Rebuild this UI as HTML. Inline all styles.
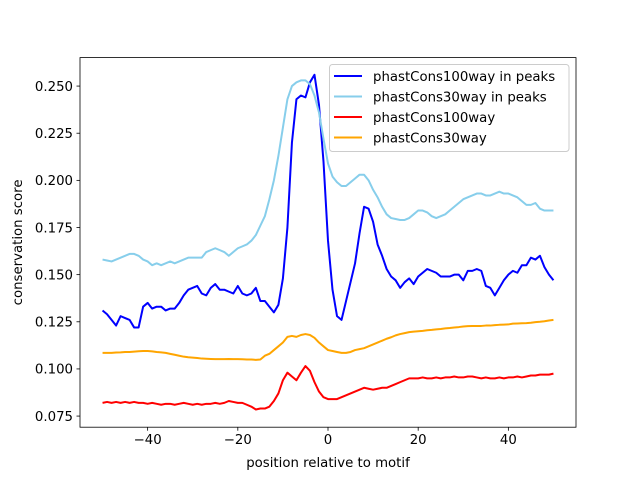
<!DOCTYPE html>
<html><head><meta charset="utf-8"><style>
body{margin:0;background:#fff;}
svg text{font-family:"DejaVu Sans","Liberation Sans",sans-serif;font-size:13.3px;fill:#000;}
</style></head><body>
<svg id="chart" width="640" height="480" xmlns="http://www.w3.org/2000/svg">
<rect width="640" height="480" fill="#fff"/>
<g id="plot"></g>
</svg>
<script>
const positions = [];
for (let i = -50; i <= 50; i++) positions.push(i);
const peaks100 = [.131,.129,.126,.123,.128,.127,.126,.122,.122,.133,.135,.132,.133,.133,.131,.132,.132,.135,.139,.142,.143,.144,.140,.139,.143,.145,.142,.142,.141,.140,.144,.140,.139,.140,.143,.136,.136,.133,.130,.134,.148,.175,.220,.243,.245,.244,.252,.256,.240,.210,.168,.142,.128,.126,.136,.146,.156,.172,.186,.185,.178,.166,.160,.153,.149,.147,.143,.146,.148,.145,.149,.151,.153,.152,.151,.149,.149,.149,.150,.150,.147,.152,.152,.153,.152,.144,.143,.139,.143,.147,.150,.152,.151,.155,.155,.159,.158,.160,.154,.150,.147];
const peaks30 = [.158,.1575,.157,.158,.159,.160,.161,.161,.160,.158,.157,.155,.156,.155,.156,.157,.156,.157,.158,.159,.159,.159,.159,.162,.163,.164,.163,.162,.160,.162,.164,.165,.166,.168,.171,.176,.181,.190,.200,.213,.228,.243,.250,.252,.253,.253,.251,.245,.236,.222,.209,.202,.199,.197,.197,.199,.201,.203,.203,.200,.195,.191,.186,.182,.180,.1795,.179,.179,.180,.182,.184,.184,.183,.181,.180,.181,.182,.184,.186,.188,.190,.191,.192,.193,.193,.192,.192,.193,.194,.193,.193,.192,.191,.189,.187,.187,.188,.185,.184,.184,.184];
const all100 = [.082,.0825,.082,.0825,.082,.0825,.082,.0825,.082,.082,.0815,.082,.0815,.081,.0815,.0815,.081,.0815,.082,.0815,.081,.0815,.081,.0815,.0815,.082,.0815,.082,.083,.0825,.082,.082,.081,.080,.0785,.079,.079,.080,.083,.087,.094,.098,.096,.094,.098,.1015,.099,.093,.088,.085,.084,.084,.084,.085,.086,.087,.088,.089,.090,.0895,.089,.0895,.090,.090,.091,.092,.093,.094,.095,.095,.095,.0955,.095,.095,.0955,.095,.0955,.0955,.096,.0955,.0955,.096,.096,.0955,.095,.0955,.095,.095,.0955,.095,.0955,.0955,.096,.0955,.096,.0965,.0965,.097,.097,.097,.0975];
const all30 = [.1085,.1085,.1085,.1087,.1088,.109,.109,.1092,.1094,.1095,.1095,.1093,.109,.1088,.1085,.108,.1075,.107,.1065,.1062,.106,.1058,.1055,.1054,.1053,.1052,.1052,.1052,.1053,.1052,.1052,.1051,.105,.105,.1048,.105,.107,.108,.110,.112,.114,.117,.1175,.117,.118,.1185,.118,.1165,.114,.112,.110,.1095,.109,.1085,.1085,.109,.110,.1105,.111,.112,.113,.114,.115,.116,.1168,.1178,.1185,.119,.1195,.1198,.120,.1202,.1205,.1207,.121,.1212,.1215,.1217,.122,.1222,.1225,.1227,.1228,.1228,.1228,.123,.123,.1232,.1234,.1235,.1236,.124,.1241,.1242,.1243,.1245,.1248,.125,.1253,.1257,.126];
const xTicks = [-40,-20,0,20,40];
const yTicks = [0.075,0.100,0.125,0.150,0.175,0.200,0.225,0.250];

const L=80,R=576,T=57.6,B=427.2, xmin=-55,xmax=55,ymin=0.0691,ymax=0.2651;
const sx=v=>L+(v-xmin)/(xmax-xmin)*(R-L);
const sy=v=>B-(v-ymin)/(ymax-ymin)*(B-T);
const NS="http://www.w3.org/2000/svg";
const g=document.getElementById('plot');
function mk(tag,attrs,parent){const e=document.createElementNS(NS,tag);for(const k in attrs)e.setAttribute(k,attrs[k]);(parent||g).appendChild(e);return e;}

const series=[[peaks100,'#0000ff','series-phastcons100way-in-peaks'],[peaks30,'#87ceeb','series-phastcons30way-in-peaks'],[all100,'#ff0000','series-phastcons100way'],[all30,'#ffa500','series-phastcons30way']];
series.forEach(s=>{
  const d=s[0].map((v,i)=>(i?'L':'M')+sx(positions[i]).toFixed(2)+' '+sy(v).toFixed(2)).join(' ');
  const p=mk('path',{d:d,fill:'none',stroke:s[1],'stroke-width':2,'stroke-linejoin':'round'});
  
  
});
const frame=mk('rect',{x:L,y:T,width:R-L,height:B-T,fill:'none',stroke:'#000','stroke-width':0.8});


xTicks.forEach(t=>{
  const x=sx(t);
  mk('line',{x1:x,x2:x,y1:B,y2:B+3.5,stroke:'#000','stroke-width':0.8});
  const tx=mk('text',{x:x,y:B+17,'text-anchor':'middle'});tx.textContent=(t<0?'\u2212'+(-t):t);
  
  
});
yTicks.forEach(t=>{
  const y=sy(t);
  mk('line',{x1:L,x2:L-3.5,y1:y,y2:y,stroke:'#000','stroke-width':0.8});
  const tx=mk('text',{x:L-7,y:y+4.8,'text-anchor':'end'});tx.textContent=t.toFixed(3);
  
  
});
const xl=mk('text',{x:(L+R)/2,y:467,'text-anchor':'middle'});xl.textContent='position relative to motif';


const yl=mk('text',{x:22,y:(T+B)/2,'text-anchor':'middle',transform:'rotate(-90 22 '+((T+B)/2)+')'});yl.textContent='conservation score';



const lg=mk('g',{});


mk('rect',{x:329.5,y:64.5,width:239.5,height:87,rx:3,fill:'#fff','fill-opacity':0.8,stroke:'#ccc','stroke-width':1},lg);
const names=['phastCons100way in peaks','phastCons30way in peaks','phastCons100way','phastCons30way'];
names.forEach((n,i)=>{
  const y=76+i*20.5;
  const e=mk('g',{},lg);
  
  
  mk('line',{x1:334,x2:362,y1:y,y2:y,stroke:series[i][1],'stroke-width':2},e);
  const t=mk('text',{x:373,y:y+4.8},e);t.textContent=n;
});
</script>
</body></html>
